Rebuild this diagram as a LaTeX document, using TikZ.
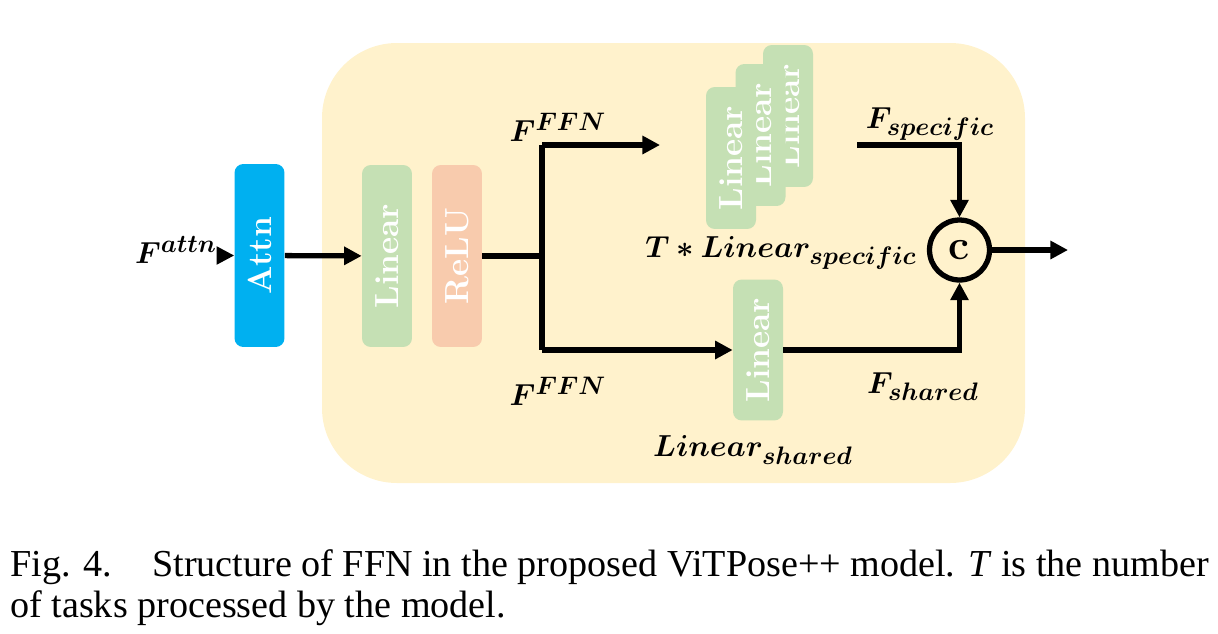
\documentclass[tikz,border=0pt]{standalone}
\usepackage{amsmath}
\usepackage{bm}
\usepackage{graphicx}
\usepackage{fontspec}
\newfontfamily\capfont{Liberation Serif}
\usetikzlibrary{arrows.meta,positioning,calc}
\definecolor{bgyellow}{HTML}{FFF2CC}
\definecolor{attnblue}{HTML}{00B0F0}
\definecolor{lingreen}{HTML}{C5E0B4}
\definecolor{relured}{HTML}{F8CBAD}
\newcommand{\bmath}[1]{\ensuremath{\bm{#1}}}
\newcommand{\vtext}[1]{\rotatebox{90}{#1}}
\tikzset{
  >={Triangle[length=10pt,width=10pt]},
  block/.style={
    rectangle,
    rounded corners=5pt,
    text=white,
    font=\fontsize{19}{20}\selectfont\bfseries,
    minimum width=1cm,
    inner sep=0pt},
  lbl/.style={font=\fontsize{19}{20}\selectfont, inner sep=0pt},
  arrow/.style={draw, line width=3pt, ->},
  line/.style={draw, line width=3pt},
}

\begin{document}
\begin{tikzpicture}[x=0.02cm, y=-0.02cm]
  \useasboundingbox (0,0) rectangle (1218,633);
  % background panel
  \fill[bgyellow, rounded corners=1.5cm] (322,43) rectangle (1025,483);

  \node[block, fill=attnblue, minimum height=3.66cm]  (attn) at (259.5,255.5) {\vtext{Attn}};
  \node[block, fill=lingreen, minimum height=3.64cm]  (lin1) at (387,256) {\vtext{Linear}};
  \node[block, fill=relured,  minimum height=3.64cm]  (relu) at (457,256) {\vtext{ReLU}};

  % stacked task-specific layers
  \node[block, fill=lingreen, minimum height=2.84cm]  (spec3) at (788,116) {\vtext{Linear}};
  \node[block, fill=lingreen, minimum height=2.84cm]  (spec2) at (760.5,135) {\vtext{Linear}};
  \node[block, fill=lingreen, minimum height=2.84cm]  (spec1) at (731,158) {\vtext{Linear}};
  \node[block, fill=lingreen, minimum height=2.82cm]  (shared) at (758,350) {\vtext{Linear}};

  \node[circle, draw, line width=3pt, minimum size=1.2cm, inner sep=0pt,
        font=\fontsize{24}{24}\selectfont\bfseries] (cat) at (959.5,250) {c};

  \coordinate (split) at (542,256);
  \coordinate (top) at (542,145);
  \coordinate (bot) at (542,350);
  \coordinate (topend) at (660,145);
  \coordinate (specout) at (857,145);
  \coordinate (outend) at (1068,250);

  % labels
  \node[lbl] (fattn) at (176,250) {\bmath{F^{attn}}};
  \node[lbl] (fffn1) at (558,127) {\bmath{F^{FFN}}};
  \node[lbl] (fffn2) at (558,391) {\bmath{F^{FFN}}};
  \node[lbl] (fspec) at (930,124) {\bmath{F_{specific}}};
  \node[lbl] (tspec) at (781,253) {\bmath{T*Linear_{specific}}};
  \node[lbl] (fshr) at (923,387) {\bmath{F_{shared}}};
  \node[lbl] (lshr) at (753,450) {\bmath{Linear_{shared}}};

  % connectors
  \draw[arrow, line width=2pt] (fattn.east |- attn.west) -- (attn.west);
  \draw[arrow] (attn) -- (lin1);
  \draw[line] (relu.east) -- (split);
  \draw[line] (top) -- (bot);
  \draw[arrow] (top) -- (topend);
  \draw[arrow] (bot) -- (shared.west);
  \draw[arrow] (specout) -| (cat.north);
  \draw[arrow] (shared.east) -| (cat.south);
  \draw[arrow] (cat.east) -- (outend);

  % caption
  \node[anchor=base west, inner sep=0pt, font=\capfont\fontsize{21.7}{25}\selectfont] (capnum) at (10,576) {Fig. 4.};
  \node[anchor=base west, inner sep=0pt, font=\capfont\fontsize{21.7}{25}\selectfont] (capl1) at (152,576) {Structure of FFN in the proposed ViTPose++ model. \textit{T} is the number};
  \node[anchor=base west, inner sep=0pt, font=\capfont\fontsize{21.7}{25}\selectfont] (capl2) at (10,617) {of tasks processed by the model.};
\end{tikzpicture}
\end{document}
